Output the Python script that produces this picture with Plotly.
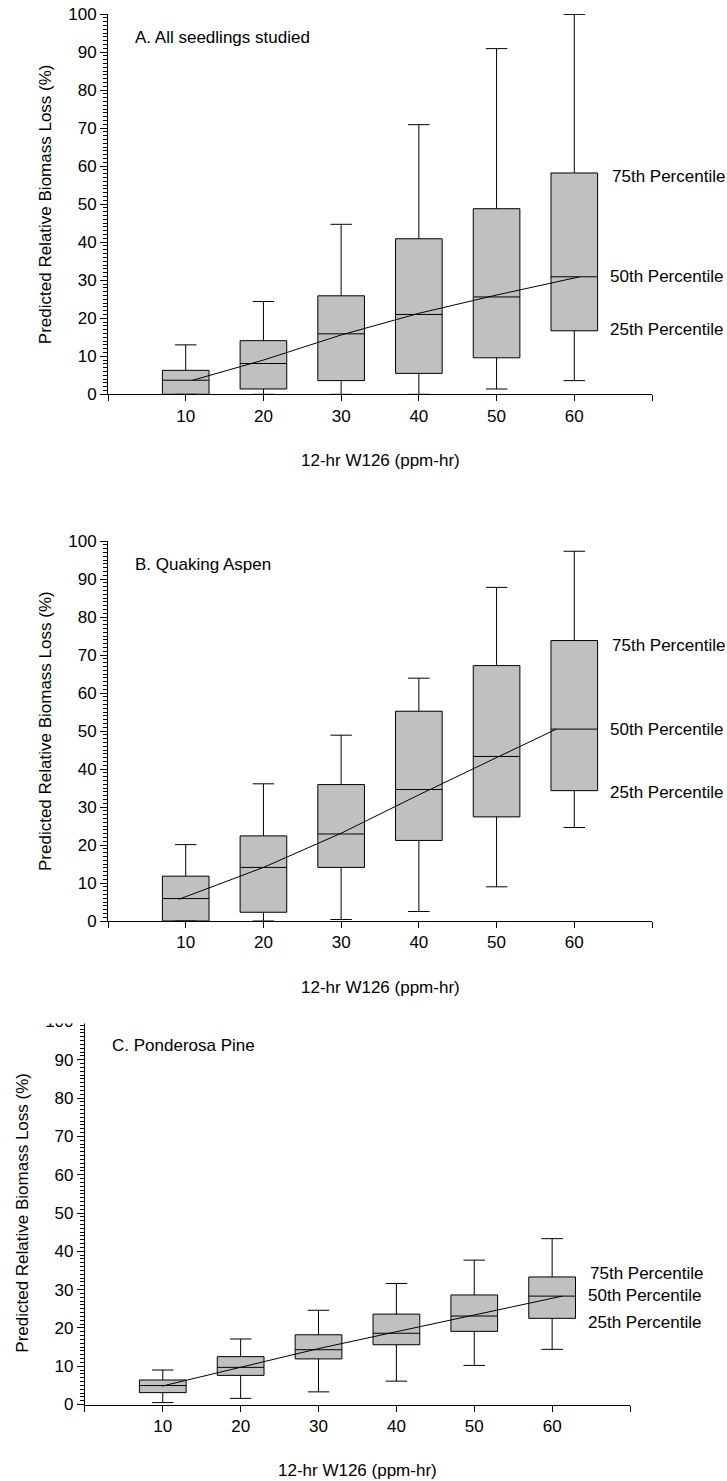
import plotly.graph_objects as go

W, H = 727, 1481
FONT = "Liberation Sans, Arial, sans-serif"
FS = 17

x_vals = [10, 20, 30, 40, 50, 60]

# Panel A: All seedlings studied
A_low = [0, 0, 0, 0, 1.4, 3.6]
A_q1 = [0, 1.4, 3.6, 5.5, 9.6, 16.7]
A_med = [3.7, 8.1, 15.9, 21.0, 25.6, 30.9]
A_q3 = [6.3, 14.1, 25.9, 40.9, 48.8, 58.2]
A_high = [13.0, 24.4, 44.7, 70.9, 90.9, 99.9]
A_trend_x = [10.9, 20, 30, 40, 50, 60.7]
A_trend_y = [3.7, 9.0, 15.6, 21.3, 26.1, 30.9]

# Panel B: Quaking Aspen
B_low = [0, 0, 0.4, 2.5, 9.0, 24.6]
B_q1 = [0, 2.3, 14.1, 21.2, 27.4, 34.3]
B_med = [5.9, 14.1, 22.9, 34.6, 43.3, 50.5]
B_q3 = [11.8, 22.4, 35.9, 55.2, 67.2, 73.8]
B_high = [20.1, 36.1, 48.9, 63.9, 87.8, 97.3]
B_trend_x = [9.1, 20, 30, 40, 50, 57.7]
B_trend_y = [5.7, 14.1, 23.1, 33.2, 43.0, 50.5]

# Panel C: Ponderosa Pine
C_low = [0.5, 1.6, 3.3, 6.1, 10.2, 14.4]
C_q1 = [3.1, 7.6, 11.9, 15.6, 19.1, 22.5]
C_med = [4.95, 9.7, 14.3, 18.6, 23.1, 28.3]
C_q3 = [6.4, 12.5, 18.2, 23.6, 28.6, 33.3]
C_high = [9.0, 17.1, 24.6, 31.6, 37.7, 43.3]
C_trend_x = [9.9, 20, 30, 40, 50, 61.3]
C_trend_y = [4.8, 9.7, 14.6, 19.0, 23.4, 28.3]

panel_titles = ["A. All seedlings studied", "B. Quaking Aspen", "C. Ponderosa Pine"]
pct_labels = ["75th Percentile", "50th Percentile", "25th Percentile"]
A_pct_y = [57.4, 31.1, 17.1]
B_pct_y = [72.6, 50.3, 33.9]
C_pct_y = [34.3, 28.5, 21.5]
x_title = "12-hr W126 (ppm-hr)"
y_title = "Predicted Relative Biomass Loss (%)"
x_tickvals = [0, 10, 20, 30, 40, 50, 60, 70]
x_ticktext = ["", "10", "20", "30", "40", "50", "60", ""]

# pixel layout of each panel: (left, right, top, bottom)
panels = [
    dict(px=(108, 652), py=(14, 394.3)),
    dict(px=(108, 652), py=(541, 921)),
    dict(px=(84.9, 630), py=(1021.5, 1404.5)),
]

fig = go.Figure()
data_sets = [
    (A_low, A_q1, A_med, A_q3, A_high, A_trend_x, A_trend_y, A_pct_y),
    (B_low, B_q1, B_med, B_q3, B_high, B_trend_x, B_trend_y, B_pct_y),
    (C_low, C_q1, C_med, C_q3, C_high, C_trend_x, C_trend_y, C_pct_y),
]

annotations = []
for i, (low, q1, med, q3, high, tx, ty, pct_y) in enumerate(data_sets):
    sfx = "" if i == 0 else str(i + 1)
    xa, ya = "x" + sfx, "y" + sfx
    fig.add_trace(go.Box(
        x=x_vals, q1=q1, median=med, q3=q3, lowerfence=low, upperfence=high,
        width=6, whiskerwidth=0.46, fillcolor="#c0c0c0",
        line=dict(color="black", width=1), xaxis=xa, yaxis=ya,
        showlegend=False, hoverinfo="skip"))
    fig.add_trace(go.Scatter(
        x=tx, y=ty, mode="lines", line=dict(color="black", width=1),
        xaxis=xa, yaxis=ya, showlegend=False, hoverinfo="skip"))
    p = panels[i]
    l, r = p["px"]
    t, b = p["py"]
    fig.layout["xaxis" + sfx] = dict(
        domain=[l / W, r / W], range=[0, 70], anchor=ya, automargin=False,
        showline=True, linecolor="black", linewidth=1, showgrid=False, zeroline=False,
        ticks="outside", ticklen=6, tickcolor="black",
        tickvals=x_tickvals, ticktext=x_ticktext,
        tickfont=dict(family=FONT, size=FS, color="black"))
    fig.layout["yaxis" + sfx] = dict(
        domain=[1 - b / H, 1 - t / H], range=[0, 100], anchor=xa, automargin=False,
        showline=True, linecolor="black", linewidth=1, showgrid=False, zeroline=False,
        ticks="outside", ticklen=7, tickcolor="black", dtick=10, tick0=0,
        minor=dict(ticks="outside", ticklen=4, dtick=1, tickcolor="black", showgrid=False),
        tickfont=dict(family=FONT, size=FS, color="black"))
    # panel title
    annotations.append(dict(text=panel_titles[i], x=3.2, y=93.8, xref=xa, yref=ya,
                            xanchor="left", yanchor="middle", showarrow=False,
                            font=dict(family=FONT, size=FS, color="black")))
    # percentile labels
    for j, (lab, yy) in enumerate(zip(pct_labels, pct_y)):
        annotations.append(dict(text=lab, x=64.3 if j else 64.6, y=yy, xref=xa, yref=ya,
                                xanchor="left", yanchor="middle", showarrow=False,
                                font=dict(family=FONT, size=FS, color="black")))
    # axis titles
    annotations.append(dict(text=x_title, x=(l + r) / 2 / W, y=1 - (b + 66) / H,
                            xref="paper", yref="paper", xanchor="center", yanchor="middle",
                            showarrow=False, font=dict(family=FONT, size=FS, color="black")))
    annotations.append(dict(text=y_title, x=(45 if i < 2 else 21.7) / W, y=1 - (t + b) / 2 / H,
                            xref="paper", yref="paper", xanchor="center", yanchor="middle",
                            textangle=-90, showarrow=False,
                            font=dict(family=FONT, size=FS, color="black")))

# top of panel C is cropped in the original figure
shapes = [dict(type="rect", xref="paper", yref="paper", x0=0, x1=100 / W,
               y0=1 - 1023.5 / H, y1=1 - 998 / H, fillcolor="white",
               line=dict(width=0), layer="above")]

fig.update_layout(
    width=W, height=H, margin=dict(l=0, r=0, t=0, b=0, autoexpand=False),
    paper_bgcolor="white", plot_bgcolor="white",
    annotations=annotations, shapes=shapes,
    font=dict(family=FONT, size=FS, color="black"))

fig.write_html(
    "out.html",
    config={"displayModeBar": False},
    post_script="document.body.style.margin='0';document.body.style.overflow='hidden';")
